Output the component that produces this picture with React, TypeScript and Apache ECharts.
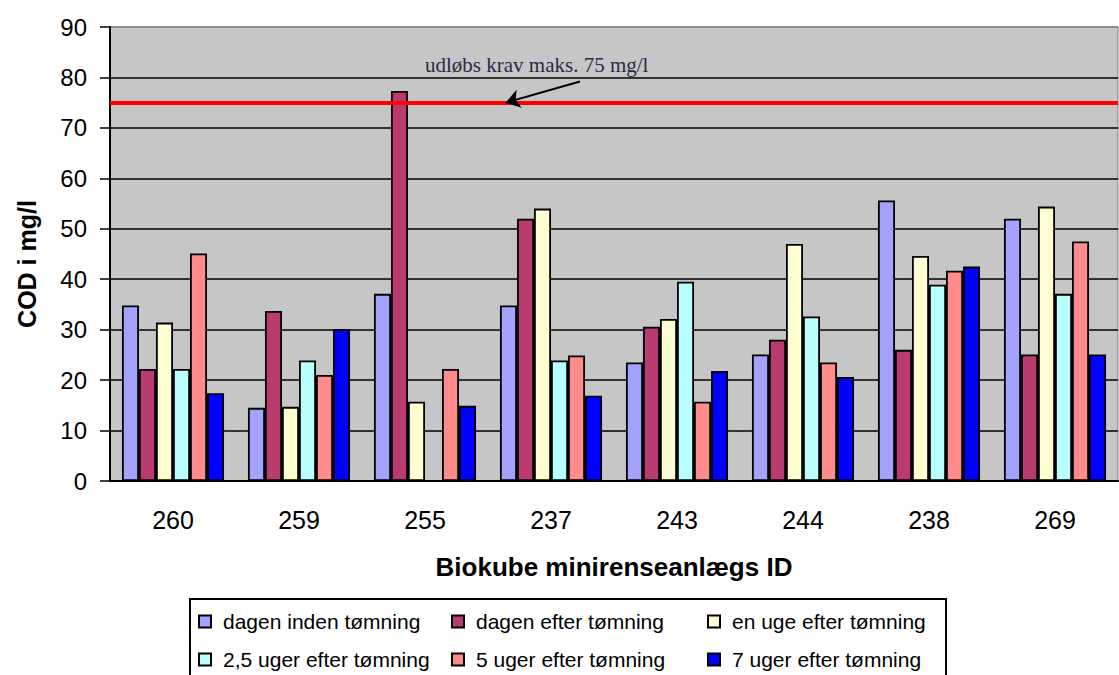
import React, { useEffect, useRef } from "react";
import * as echarts from "echarts";

// Plant IDs along the category axis
const categories = ["260", "259", "255", "237", "243", "244", "238", "269"];

// COD (mg/l) per sampling time
const dagenInden = [34.8, 14.5, 37.1, 34.8, 23.5, 25.1, 55.6, 52.0];
const dagenEfter = [22.2, 33.7, 77.3, 52.0, 30.6, 28.0, 26.0, 25.1];
const enUge = [31.4, 14.7, 15.7, 54.0, 32.1, 47.0, 44.6, 54.4];
const uger25 = [22.2, 23.9, null, 23.9, 39.5, 32.6, 38.9, 37.1];
const uger5 = [45.1, 21.0, 22.2, 24.9, 15.7, 23.5, 41.7, 47.5];
const uger7 = [17.4, 30.1, 14.9, 16.9, 21.8, 20.6, 42.5, 25.1];

const seriesNames = [
  "dagen inden tømning",
  "dagen efter tømning",
  "en uge efter tømning",
  "2,5 uger efter tømning",
  "5 uger efter tømning",
  "7 uger efter tømning",
];
const seriesValues = [dagenInden, dagenEfter, enUge, uger25, uger5, uger7];
const seriesColors = ["#A3A3FF", "#BA3B70", "#FFFFD2", "#BAFFFF", "#FF8B8B", "#0000FF"];

// Outlet requirement
const LIMIT = 75;
const limitText = "udløbs krav maks. 75 mg/l";

// Y axis range
const Y_MIN = 0;
const Y_MAX = 90;
const Y_STEP = 10;

const SANS = '"Liberation Sans", Arial, sans-serif';
const SERIF = '"Liberation Serif", "Times New Roman", serif';

export default function App() {
  const ref = useRef<HTMLDivElement>(null);

  useEffect(() => {
    if (!ref.current) return;
    const chart = echarts.init(ref.current, null, { renderer: "svg" });

    const gridLineCount = (Y_MAX - Y_MIN) / Y_STEP + 1;
    const splitColors = Array.from({ length: gridLineCount }, (_, i) =>
      i === gridLineCount - 1 ? "#808080" : "#000000"
    );

    const bars = seriesNames.map((name, i) => ({
      name,
      type: "bar",
      data: seriesValues[i],
      barGap: "0%",
      barCategoryGap: "19%",
      itemStyle: { color: seriesColors[i], borderColor: "#000", borderWidth: 1.8 },
      ...(i === 0
        ? {
            markLine: {
              silent: true,
              symbol: "none",
              label: { show: false },
              lineStyle: { color: "#FF0000", width: 4, type: "solid" },
              data: [{ yAxis: LIMIT }],
            },
          }
        : {}),
    }));

    const legendBase = {
      type: "plain",
      orient: "vertical",
      top: 611,
      height: 64,
      padding: 0,
      itemGap: 17,
      itemWidth: 12,
      itemHeight: 12,
      icon: "rect",
      selectedMode: false,
      textStyle: {
        fontFamily: SANS,
        fontSize: 21,
        lineHeight: 21,
        color: "#000",
        padding: [0, 0, 0, 7],
      },
    };

    chart.setOption({
      animation: false,
      textStyle: { fontFamily: SANS },
      grid: {
        left: 110,
        right: 1,
        top: 27,
        bottom: 194,
        show: true,
        backgroundColor: "#C6C6C6",
        borderColor: "#808080",
        borderWidth: 1,
      },
      xAxis: [
        {
          type: "category",
          data: categories,
          axisLine: { lineStyle: { color: "#000", width: 2 } },
          axisTick: { length: 6, lineStyle: { color: "#000", width: 1.5 } },
          axisLabel: { fontSize: 25, color: "#000", margin: 26, fontFamily: SANS },
          name: "Biokube minirenseanlægs ID",
          nameLocation: "middle",
          nameGap: 73,
          nameTextStyle: { fontSize: 26, fontWeight: "bold", color: "#000", fontFamily: SANS },
        },
        // helper axis for the annotation arrow
        { type: "value", min: 0, max: categories.length, show: false },
      ],
      yAxis: {
        type: "value",
        min: Y_MIN,
        max: Y_MAX,
        interval: Y_STEP,
        axisLine: { show: true, lineStyle: { color: "#000", width: 2 } },
        axisTick: { show: true, length: 10, lineStyle: { color: "#000", width: 1.5 } },
        axisLabel: { fontSize: 24, color: "#000", margin: 23, fontFamily: SANS },
        splitLine: { show: true, lineStyle: { color: splitColors, width: 1.5 } },
      },
      legend: [
        { ...legendBase, left: 198, data: [seriesNames[0], seriesNames[3]] },
        { ...legendBase, left: 451, data: [seriesNames[1], seriesNames[4]] },
        { ...legendBase, left: 707, data: [seriesNames[2], seriesNames[5]] },
      ],
      series: [
        ...bars,
        {
          name: "arrow",
          type: "line",
          xAxisIndex: 1,
          data: [],
          markLine: {
            silent: true,
            symbol: ["none", "arrow"],
            symbolSize: 14,
            label: { show: false },
            lineStyle: { color: "#000", width: 2, type: "solid" },
            data: [[{ coord: [3.73, 79.2] }, { coord: [3.14, LIMIT] }]],
          },
        },
      ],
      graphic: [
        {
          type: "rect",
          z: -1,
          shape: { x: 190, y: 599, width: 756, height: 90 },
          style: { fill: "#fff", stroke: "#000", lineWidth: 2 },
        },
        {
          type: "text",
          x: 425,
          y: 65,
          style: {
            text: limitText,
            font: `21px ${SERIF}`,
            fill: "#2a2a48",
            verticalAlign: "middle",
          },
        },
        {
          type: "text",
          x: 27,
          y: 264,
          rotation: Math.PI / 2,
          style: {
            text: "COD i mg/l",
            font: `bold 25px ${SANS}`,
            fill: "#000",
            align: "center",
            verticalAlign: "middle",
          },
        },
      ],
    });

    return () => chart.dispose();
  }, []);

  return (
    <div
      ref={ref}
      style={{ position: "fixed", left: 0, top: 0, width: 1119, height: 675, background: "#fff" }}
    />
  );
}
